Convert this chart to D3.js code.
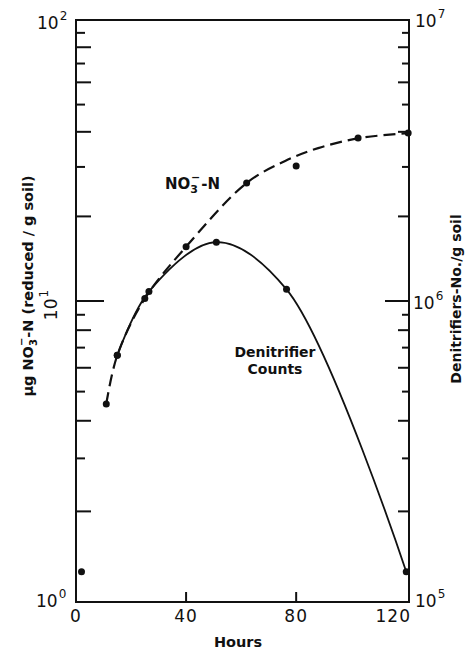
<!DOCTYPE html>
<html>
<head>
<meta charset="utf-8">
<script src="https://cdn.jsdelivr.net/npm/d3@7"></script>
<style>
    body { margin: 0; background: #fff; }
    svg text { font-family: "DejaVu Sans", sans-serif; fill: #111; }
</style>
</head>
<body>
<svg id="chart" width="466" height="650"></svg>
<script>
// values
const hourTicks = [0, 40, 80, 120];
const no3Hours = [11, 15, 25, 40, 62, 80, 102.5, 120.7];
const no3Values = [4.55, 6.6, 10.2, 15.6, 26.3, 30.2, 38.0, 39.6];
// the dashed line is a hand-drawn fit
const no3FitHours = [11, 15, 25, 40, 62, 76, 88, 103, 120.7];
const no3FitValues = [4.55, 6.6, 10.2, 15.6, 26.3, 31.5, 35.0, 38.0, 39.6];
const denHours = [2, 15, 26.5, 51, 76.5, 120];
const denCounts = [1.26e5, 6.6e5, 1.08e6, 1.62e6, 1.1e6, 1.26e5];
const leftDecades = [1, 10, 100];
const rightDecades = [1e5, 1e6, 1e7];
const minorSteps = [2, 3, 4, 5, 6, 7, 8, 9];

const chart = function () {
    this.svg = d3.select("svg#chart");

    const plot = {left: 76, right: 409, top: 20, bottom: 602};

    const x = d3.scaleLinear().domain([0, 121]).range([plot.left, plot.right]);
    // the printed decades are not quite equal in height
    const yLeft = d3.scaleLog().domain(leftDecades).range([plot.bottom, 301, plot.top]);
    const yRight = d3.scaleLog().domain(rightDecades).range([plot.bottom, 301, plot.top]);

    const no3 = no3Hours.map((h, i) => ({h: h, v: no3Values[i]}));
    const no3Fit = no3FitHours.map((h, i) => ({h: h, v: no3FitValues[i]}));
    const den = denHours.map((h, i) => ({h: h, v: denCounts[i]}));

    const tickList = (decades) => {
        let out = [];
        decades.forEach((d, i) => {
            out.push({v: d, kind: "major"});
            if (i < decades.length - 1) {
                minorSteps.forEach(m => out.push({v: d * m, kind: m % 2 === 0 ? "even" : "odd"}));
            }
        });
        return out;
    };

    // frame
    this.svg.append("rect")
        .attr("x", plot.left).attr("y", plot.top)
        .attr("width", plot.right - plot.left).attr("height", plot.bottom - plot.top)
        .attr("fill", "none").attr("stroke", "#111").attr("stroke-width", 2);

    // left ticks, pointing inward
    const leftLen = {major: 28, even: 15, odd: 9};
    this.svg.append("g").selectAll("line")
        .data(tickList(leftDecades).filter(t => t.v > 1 && t.v < 100))
        .enter().append("line")
        .attr("x1", plot.left).attr("x2", t => plot.left + leftLen[t.kind])
        .attr("y1", t => yLeft(t.v)).attr("y2", t => yLeft(t.v))
        .attr("stroke", "#111").attr("stroke-width", 2);

    // right ticks
    const rightLen = {major: 24, even: 11, odd: 7};
    this.svg.append("g").selectAll("line")
        .data(tickList(rightDecades).filter(t => t.v > 1e5 && t.v < 1e7))
        .enter().append("line")
        .attr("x1", plot.right).attr("x2", t => plot.right - rightLen[t.kind])
        .attr("y1", t => yRight(t.v)).attr("y2", t => yRight(t.v))
        .attr("stroke", "#111").attr("stroke-width", 2);

    // bottom axis
    this.svg.append("g").selectAll("line")
        .data(hourTicks.filter(h => h > 0 && h < 120))
        .enter().append("line")
        .attr("x1", h => x(h)).attr("x2", h => x(h))
        .attr("y1", plot.bottom).attr("y2", plot.bottom - 10)
        .attr("stroke", "#111").attr("stroke-width", 2);

    this.svg.append("g").selectAll("text")
        .data(hourTicks)
        .enter().append("text")
        .attr("x", h => x(h) + (h === 120 ? -13 : 0))
        .attr("y", 622)
        .attr("font-size", 17)
        .attr("letter-spacing", 1)
        .style("text-anchor", "middle")
        .text(h => h);

    this.svg.append("text")
        .attr("x", 238).attr("y", 647)
        .attr("font-size", 14.5).attr("font-weight", "bold")
        .style("text-anchor", "middle")
        .text("Hours");

    // power-of-ten labels
    const powerLabel = (px, py, exp, rotate) => {
        let t = this.svg.append("text")
            .attr("x", px).attr("y", py)
            .attr("font-size", 17);
        if (rotate) {
            t.attr("transform", `rotate(-90, ${px}, ${py})`).style("text-anchor", "middle");
        }
        t.append("tspan").text("10");
        t.append("tspan").attr("font-size", 12).attr("dy", -9).attr("dx", 1).text(exp);
    };
    powerLabel(37, 29, "2");
    powerLabel(57, 305, "1", true);
    powerLabel(36, 607, "0");
    powerLabel(415, 27, "7");
    powerLabel(413, 309, "6");
    powerLabel(415, 607, "5");

    // axis titles
    let leftTitle = this.svg.append("text")
        .attr("transform", "translate(33, 286) rotate(-90)")
        .attr("font-size", 14.5).attr("font-weight", "bold")
        .style("text-anchor", "middle");
    leftTitle.append("tspan").text("\u00b5g NO");
    leftTitle.append("tspan").attr("font-size", 10).attr("dy", 4).text("3");
    leftTitle.append("tspan").attr("font-size", 10).attr("dx", -7).attr("dy", -12).text("\u2212");
    leftTitle.append("tspan").attr("dy", 8).text("-N (reduced / g soil)");

    this.svg.append("text")
        .attr("transform", "translate(461, 299) rotate(-90)")
        .attr("font-size", 14).attr("font-weight", "bold")
        .style("text-anchor", "middle")
        .text("Denitrifiers-No./g soil");

    // curves
    const no3Line = d3.line()
        .x(d => x(d.h)).y(d => yLeft(d.v))
        .curve(d3.curveCatmullRom);
    const denLine = d3.line()
        .x(d => x(d.h)).y(d => yRight(d.v))
        .curve(d3.curveCatmullRom);

    this.svg.append("path")
        .attr("d", no3Line(no3Fit))
        .attr("fill", "none").attr("stroke", "#111")
        .attr("stroke-width", 2.2).attr("stroke-dasharray", "12,6");

    // the solid curve starts at the 15 h count
    this.svg.append("path")
        .attr("d", denLine(den.slice(1)))
        .attr("fill", "none").attr("stroke", "#111")
        .attr("stroke-width", 1.8);

    this.svg.append("g").selectAll("circle")
        .data(no3).enter().append("circle")
        .attr("cx", d => x(d.h)).attr("cy", d => yLeft(d.v))
        .attr("r", 3.5).attr("fill", "#111");

    this.svg.append("g").selectAll("circle")
        .data(den).enter().append("circle")
        .attr("cx", d => x(d.h)).attr("cy", d => yRight(d.v))
        .attr("r", 3.5).attr("fill", "#111");

    // series labels
    let no3Label = this.svg.append("text")
        .attr("x", 165).attr("y", 189)
        .attr("font-size", 15).attr("font-weight", "bold");
    no3Label.append("tspan").text("NO");
    no3Label.append("tspan").attr("font-size", 11).attr("dy", 4).text("3");
    no3Label.append("tspan").attr("font-size", 11).attr("dx", -7).attr("dy", -12).text("\u2212");
    no3Label.append("tspan").attr("dy", 8).attr("dx", 1).text("-N");

    this.svg.append("text")
        .attr("x", 275).attr("y", 357)
        .attr("font-size", 14).attr("font-weight", "bold")
        .style("text-anchor", "middle")
        .text("Denitrifier");
    this.svg.append("text")
        .attr("x", 275).attr("y", 374)
        .attr("font-size", 14).attr("font-weight", "bold")
        .style("text-anchor", "middle")
        .text("Counts");
};

new chart();
</script>
</body>
</html>
